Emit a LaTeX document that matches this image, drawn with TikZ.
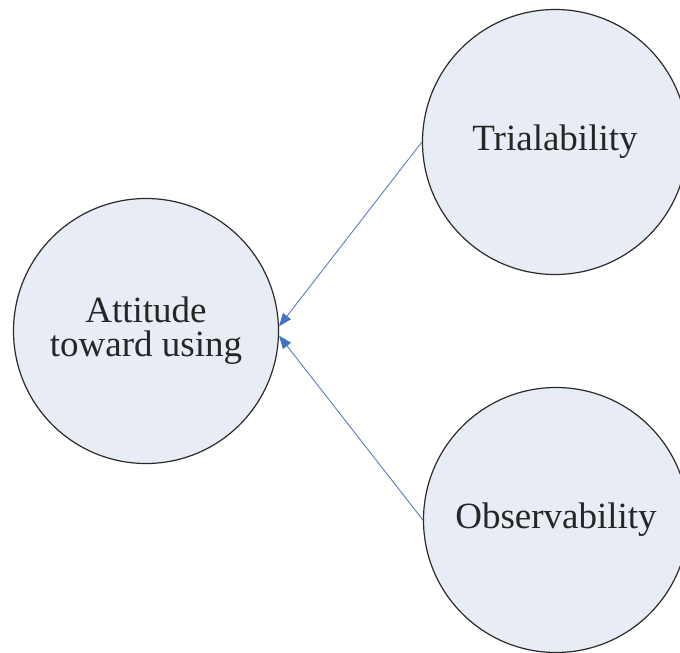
\documentclass[tikz,border=0pt]{standalone}
\usepackage{fontspec}
\setmainfont{Liberation Serif}
\usetikzlibrary{arrows.meta}
\definecolor{bubblefill}{HTML}{E8ECF5}
\definecolor{bubbleline}{HTML}{2A2A2A}
\definecolor{linkblue}{HTML}{5B7CC0}
\definecolor{tipblue}{HTML}{4472C4}
\begin{document}
\begin{tikzpicture}[x=1pt,y=1pt,
  bubble/.style={circle, draw=bubbleline, line width=1.2pt, fill=bubblefill,
    minimum size=265pt, inner sep=0pt, align=center, text=black!85,
    font=\fontsize{37}{34}\selectfont},
  link/.style={draw=linkblue, line width=0.9pt,
    -{Triangle[length=13pt,width=10pt,fill=tipblue,color=tipblue]}}]
\useasboundingbox (0,-653) rectangle (680,0);
\clip (0,-653) rectangle (680,0);
\node[bubble] (att) at (146,-331) {Attitude\\toward using};
\node[bubble] (tri) at (555,-142) {Trialability};
\node[bubble] (obs) at (556,-520) {Observability};
\draw[link] (tri.west) -- (att.2);
\draw[link] (obs.west) -- (att.-2);
\end{tikzpicture}
\end{document}
